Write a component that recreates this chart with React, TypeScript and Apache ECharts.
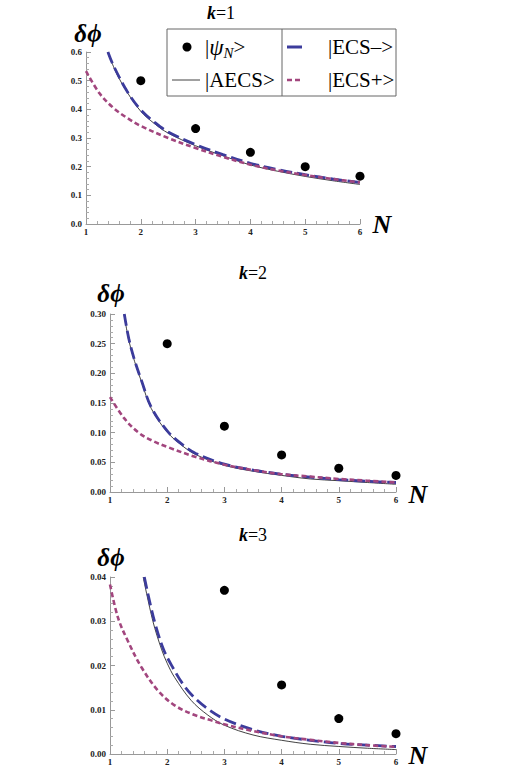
import React, { useEffect, useRef } from "react";
import * as echarts from "echarts";

// ---- data ----
const xTicks = [1, 2, 3, 4, 5, 6];

// k = 1
const k1Psi = [[2, 0.5], [3, 0.333], [4, 0.25], [5, 0.2], [6, 0.167]];
const k1AECS = [[1.39, 0.6], [1.5, 0.55], [1.57, 0.52], [1.75, 0.46], [2, 0.393], [2.25, 0.35], [2.5, 0.317], [3, 0.273], [3.5, 0.238], [4, 0.206], [4.5, 0.184], [5, 0.166], [5.5, 0.151], [6, 0.138]];
const k1ECSminus = [[1.4, 0.6], [1.5, 0.553], [1.75, 0.463], [2, 0.398], [2.25, 0.355], [2.5, 0.321], [3, 0.277], [3.5, 0.242], [4, 0.212], [4.5, 0.19], [5, 0.172], [5.5, 0.157], [6, 0.145]];
const k1ECSplus = [[1, 0.533], [1.25, 0.455], [1.5, 0.405], [1.75, 0.37], [2, 0.342], [2.5, 0.3], [3, 0.265], [3.5, 0.234], [4, 0.207], [4.5, 0.187], [5, 0.171], [5.5, 0.157], [6, 0.145]];

// k = 2
const k2Psi = [[2, 0.25], [3, 0.111], [4, 0.0625], [5, 0.04], [6, 0.028]];
const k2AECS = [[1.245, 0.3], [1.33, 0.255], [1.43, 0.22], [1.55, 0.186], [1.72, 0.141], [2, 0.101], [2.25, 0.079], [2.5, 0.063], [3, 0.045], [3.5, 0.035], [4, 0.028], [4.5, 0.022], [5, 0.019], [5.5, 0.016], [6, 0.013]];
const k2ECSminus = [[1.25, 0.3], [1.33, 0.258], [1.43, 0.222], [1.55, 0.188], [1.72, 0.143], [2, 0.103], [2.25, 0.081], [2.5, 0.065], [3, 0.047], [3.5, 0.037], [4, 0.03], [4.5, 0.025], [5, 0.021], [5.5, 0.018], [6, 0.016]];
const k2ECSplus = [[1, 0.16], [1.25, 0.124], [1.5, 0.1], [1.75, 0.086], [2, 0.076], [2.5, 0.059], [3, 0.046], [3.5, 0.037], [4, 0.03], [4.5, 0.026], [5, 0.022], [5.5, 0.019], [6, 0.016]];

// k = 3
const k3Psi = [[3, 0.037], [4, 0.0156], [5, 0.008], [6, 0.0046]];
const k3AECS = [[1.58, 0.04], [1.75, 0.03], [1.9, 0.0237], [2, 0.0205], [2.13, 0.0173], [2.42, 0.0121], [2.71, 0.0088], [3, 0.0065], [3.5, 0.0043], [4, 0.0031], [4.5, 0.0022], [5, 0.0017], [5.5, 0.0013], [6, 0.001]];
const k3ECSminus = [[1.6, 0.04], [1.71, 0.0335], [1.81, 0.0285], [1.94, 0.0235], [2.1, 0.0195], [2.28, 0.0157], [2.47, 0.0128], [2.71, 0.0102], [3, 0.0079], [3.5, 0.0055], [4, 0.004], [4.5, 0.0031], [5, 0.0024], [5.5, 0.002], [6, 0.0017]];
const k3ECSplus = [[1, 0.0383], [1.14, 0.0308], [1.31, 0.0256], [1.55, 0.0196], [1.84, 0.0143], [2.13, 0.011], [2.48, 0.0088], [2.77, 0.0076], [3, 0.0067], [3.5, 0.0052], [4, 0.004], [4.5, 0.0032], [5, 0.0025], [5.5, 0.002], [6, 0.0016]];

const yMax = [0.6, 0.3, 0.04];
const yStep = [0.1, 0.05, 0.01];
const yDecimals = [1, 2, 2];
const panelTitles = ["1", "2", "3"];

const SERIF = "'Liberation Serif', 'Times New Roman', serif";
const BLUE = "#3c3c9c";
const PURPLE = "#a2467e";

export default function App() {
  const ref = useRef<HTMLDivElement>(null);
  useEffect(() => {
    if (!ref.current) return;
    const chart = echarts.init(ref.current, undefined, { renderer: "svg" });
    const grids = [
      { left: 86, top: 52, width: 274, height: 172 },
      { left: 110, top: 314, width: 286, height: 178 },
      { left: 110, top: 577, width: 286, height: 177 },
    ];
    const psi = [k1Psi, k2Psi, k3Psi];
    const aecs = [k1AECS, k2AECS, k3AECS];
    const em = [k1ECSminus, k2ECSminus, k3ECSminus];
    const ep = [k1ECSplus, k2ECSplus, k3ECSplus];

    const axisCommon = {
      axisLine: { show: true, lineStyle: { color: "#999", width: 1 } },
      axisTick: { show: true, inside: true, length: 5, lineStyle: { color: "#999" } },
      minorTick: { show: true, splitNumber: 5, length: 3, lineStyle: { color: "#aaa" } },
      splitLine: { show: false },
      minorSplitLine: { show: false },
    };

    const xAxis = grids.map((_, i) => ({
      type: "value",
      gridIndex: i,
      min: xTicks[0],
      max: xTicks[xTicks.length - 1],
      interval: 1,
      ...axisCommon,
      axisLabel: {
        fontFamily: SERIF, fontWeight: "bold", fontSize: 9, color: "#222", margin: 3,
        formatter: (v: number) => String(v),
      },
    }));
    const yAxis = grids.map((_, i) => ({
      type: "value",
      gridIndex: i,
      min: 0,
      max: yMax[i],
      interval: yStep[i],
      ...axisCommon,
      axisLabel: {
        fontFamily: SERIF, fontWeight: "bold", fontSize: 9, color: "#222", margin: 4,
        formatter: (v: number) => v.toFixed(yDecimals[i]),
      },
    }));

    const series: any[] = [];
    for (let i = 0; i < 3; i++) {
      series.push({
        type: "line", name: "|AECS>", xAxisIndex: i, yAxisIndex: i, data: aecs[i],
        smooth: 0.35, showSymbol: false, symbol: "none",
        lineStyle: { color: "#111", width: 0.8 }, z: 2,
      });
      series.push({
        type: "line", name: "|ECS->", xAxisIndex: i, yAxisIndex: i, data: em[i],
        smooth: 0.35, showSymbol: false, symbol: "none",
        lineStyle: { color: BLUE, width: 2.8, type: [12, 5] }, z: 3,
      });
      series.push({
        type: "line", name: "|ECS+>", xAxisIndex: i, yAxisIndex: i, data: ep[i],
        smooth: 0.35, showSymbol: false, symbol: "none",
        lineStyle: { color: PURPLE, width: 2.6, type: [5, 3] }, z: 3,
      });
      series.push({
        type: "scatter", name: "|ψN>", xAxisIndex: i, yAxisIndex: i, data: psi[i],
        symbol: "circle", symbolSize: 9, itemStyle: { color: "#000", opacity: 1 }, z: 5,
      });
    }

    const titleRich = {
      k: { fontFamily: SERIF, fontStyle: "italic", fontWeight: "bold", fontSize: 18, fill: "#000" },
      r: { fontFamily: SERIF, fontSize: 18, fill: "#000" },
    };
    const graphic: any[] = [];
    const titlePos = [[221, 13], [253, 273], [253, 535]];
    const dphiPos = [[88, 33], [111, 293], [111, 557]];
    const nPos = [[382, 224], [418, 494], [418, 755]];
    for (let i = 0; i < 3; i++) {
      graphic.push({
        type: "text", x: titlePos[i][0], y: titlePos[i][1],
        style: {
          text: "{k|k}{r|=" + panelTitles[i] + "}", rich: titleRich,
          align: "center", verticalAlign: "middle",
        },
      });
      graphic.push({
        type: "text", x: dphiPos[i][0], y: dphiPos[i][1],
        style: {
          text: "δϕ", fontFamily: SERIF, fontStyle: "italic", fontWeight: "bold", fontSize: 25,
          fill: "#000", align: "center", verticalAlign: "middle",
        },
      });
      graphic.push({
        type: "text", x: nPos[i][0], y: nPos[i][1],
        style: {
          text: "N", fontFamily: SERIF, fontStyle: "italic", fontWeight: "bold", fontSize: 26,
          fill: "#000", align: "center", verticalAlign: "middle",
        },
      });
    }

    // legend box
    const lx = 167, ly = 29, lw = 229, lh = 67, div = 282, r1 = 47, r2 = 80;
    const legFont = { fontFamily: SERIF, fontSize: 21, fill: "#000" };
    graphic.push(
      { type: "rect", shape: { x: lx, y: ly, width: lw, height: lh }, style: { fill: "#fff", stroke: "#666", lineWidth: 1 }, z: 10 },
      { type: "line", shape: { x1: div, y1: ly, x2: div, y2: ly + lh }, style: { stroke: "#666", lineWidth: 1 }, z: 11 },
      { type: "circle", shape: { cx: 187, cy: r1, r: 4.5 }, style: { fill: "#000" }, z: 11 },
      {
        type: "text", x: 205, y: r1, z: 11,
        style: {
          text: "{a||}{b|ψ}{c|N}{a|>}",
          verticalAlign: "middle",
          rich: {
            a: { ...legFont },
            b: { ...legFont, fontStyle: "italic", fontSize: 23 },
            c: { ...legFont, fontStyle: "italic", fontSize: 15, padding: [12, 0, 0, 0] },
          },
        },
      },
      { type: "line", shape: { x1: 172, y1: r2, x2: 200, y2: r2 }, style: { stroke: "#111", lineWidth: 0.8 }, z: 11 },
      { type: "text", x: 205, y: r2, z: 11, style: { text: "|AECS>", verticalAlign: "middle", ...legFont } },
      { type: "line", shape: { x1: 287, y1: r1, x2: 302, y2: r1 }, style: { stroke: BLUE, lineWidth: 3 }, z: 11 },
      { type: "text", x: 328, y: r1, z: 11, style: { text: "|ECS–>", verticalAlign: "middle", ...legFont } },
      { type: "line", shape: { x1: 287, y1: r2, x2: 302, y2: r2 }, style: { stroke: PURPLE, lineWidth: 2.6, lineDash: [5, 3] }, z: 11 },
      { type: "text", x: 328, y: r2, z: 11, style: { text: "|ECS+>", verticalAlign: "middle", ...legFont } },
    );

    chart.setOption({
      animation: false,
      backgroundColor: "#fff",
      grid: grids.map((g) => ({ ...g, containLabel: false })),
      xAxis,
      yAxis,
      series,
      graphic,
    });
    return () => chart.dispose();
  }, []);
  return (
    <div
      ref={ref}
      style={{ position: "absolute", left: 0, top: 0, width: 519, height: 769 }}
    />
  );
}
